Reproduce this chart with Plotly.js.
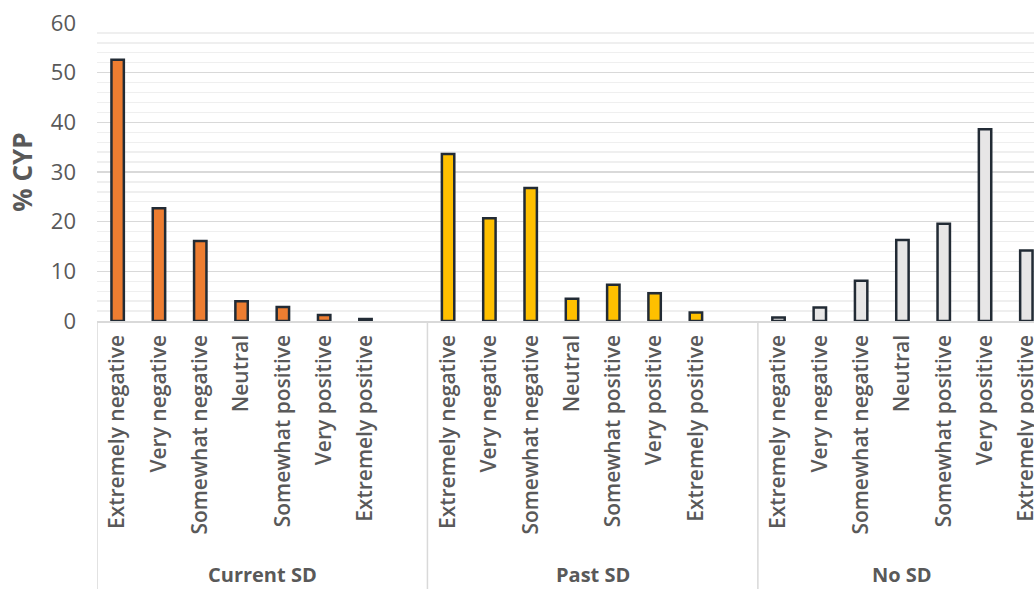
<!DOCTYPE html>
<html><head><meta charset="utf-8">
<script src="https://cdn.plot.ly/plotly-3.0.1.min.js"></script>
<style>html,body{margin:0;padding:0;overflow:hidden;background:#fff}#chart{width:1060px;height:589px}</style>
</head><body><div id="chart"></div><script>
const groups = ["Current SD", "Past SD", "No SD"];
const categories = ["Extremely negative", "Very negative", "Somewhat negative", "Neutral", "Somewhat positive", "Very positive", "Extremely positive"];
const currentSD = [52.6, 22.7, 16.1, 4.0, 2.8, 1.2, 0.4];
const pastSD = [33.6, 20.7, 26.8, 4.5, 7.3, 5.6, 1.7];
const noSD = [0.7, 2.7, 8.1, 16.3, 19.6, 38.6, 14.2];
const yTicks = [0, 10, 20, 30, 40, 50, 60];

const seriesValues = [currentSD, pastSD, noSD];
const colors = ["#ED7D31", "#FFC000", "#E7E6E6"];
const slotsPerGroup = 8;
const font = "'Open Sans', Lato, sans-serif";
const grey = "#595959";

const traces = [];
const tickvals = [], ticktext = [];
const shapes = [], annotations = [];
groups.forEach((g, gi) => {
  const xs = categories.map((c, ci) => gi * slotsPerGroup + ci);
  xs.forEach((x, i) => { tickvals.push(x); ticktext.push(categories[i]); });
  traces.push({
    type: "bar", name: g, x: xs, y: seriesValues[gi], width: 0.3,
    marker: { color: colors[gi], line: { color: "#222b35", width: 2.5 } },
    hoverinfo: "y"
  });
  const start = gi * slotsPerGroup - 0.5;
  const end = gi < groups.length - 1 ? start + slotsPerGroup : start + categories.length;
  shapes.push({ type: "line", xref: "x", yref: "paper", x0: start, x1: start, y0: 0, y1: -1,
    line: { color: "#d9d9d9", width: 1.5 } });
  annotations.push({ xref: "x", yref: "paper", x: (start + end) / 2, y: -0.852, text: "<b>" + g + "</b>",
    showarrow: false, font: { family: font, size: 20, color: grey, weight: 600 }, yanchor: "middle" });
});
const xMax = (groups.length - 1) * slotsPerGroup + categories.length - 0.5;

const layout = {
  width: 1060, height: 589,
  margin: { l: 97, r: 13, t: 23, b: 268 },
  paper_bgcolor: "#fff", plot_bgcolor: "#fff",
  showlegend: false,
  bargap: 0,
  xaxis: {
    range: [-0.5, xMax], tickmode: "array", tickvals: tickvals, ticktext: ticktext,
    tickangle: -90, ticks: "", showgrid: false, zeroline: false,
    showline: true, linecolor: "#d9d9d9", linewidth: 1.5,
    tickfont: { family: font, size: 21, color: grey, weight: 600 }, ticklabelstandoff: 4
  },
  yaxis: {
    range: [0, 60], tickmode: "array", tickvals: yTicks, ticks: "",
    showgrid: true, gridcolor: "#d9d9d9", gridwidth: 1.3, zeroline: false, showline: false,
    minor: { dtick: 2, showgrid: true, gridcolor: "#efefef", gridwidth: 1.3, ticks: "" },
    tickfont: { family: font, size: 22, color: grey }, ticklabelstandoff: 20,
    title: { text: "<b>% CYP</b>", font: { family: font, size: 26, color: grey }, standoff: 10 }
  },
  shapes: shapes, annotations: annotations
};
Plotly.newPlot("chart", traces, layout, { displayModeBar: false, staticPlot: true });
</script></body></html>
